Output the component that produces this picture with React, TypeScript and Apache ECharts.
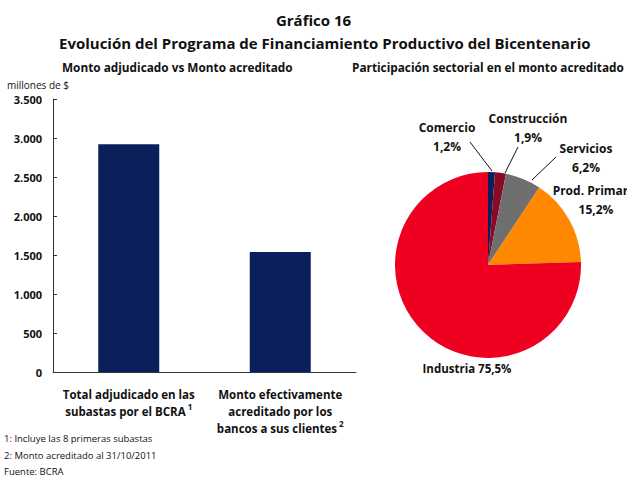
import React, { useEffect, useRef } from "react";
import * as echarts from "echarts";

const barCategories = [
  "Total adjudicado en las\nsubastas por el BCRA{sup|1}",
  "Monto efectivamente\nacreditado por los\nbancos a sus clientes{sup|2}",
];
const barValues = [2920, 1540];
const yTicks = { min: 0, max: 3500, interval: 500 };

const sectorNames = ["Comercio", "Construcción", "Servicios", "Prod. Primario", "Industria"];
const sectorValues = [1.2, 1.9, 6.2, 15.2, 75.5];
const sectorColors = ["#0b1f5c", "#8a0a26", "#6f6f6f", "#ff8800", "#ee0020"];

const footnotes = [
  "1: Incluye las 8 primeras subastas",
  "2: Monto acreditado al 31/10/2011",
  "Fuente: BCRA",
];

const FONT = "Open Sans";

const fmtThousands = (v: number) => String(v).replace(/\B(?=(\d{3})+(?!\d))/g, ".");
const fmtPct = (v: number) => String(v.toFixed(1)).replace(".", ",") + "%";

// label placement (style only)
const pieLabelPos = [
  { x: 447, y: 137, size: 12, line: [[470, 142], [492, 171]] },
  { x: 528, y: 128, size: 12, line: [[518, 147], [505, 173]] },
  { x: 586, y: 158, size: 12, line: [[556, 157], [532, 180]] },
  { x: 596, y: 200, size: 12, line: null },
  { x: 467, y: 368, size: 11.5, line: null },
];

export default function App() {
  const ref = useRef<HTMLDivElement>(null);
  useEffect(() => {
    if (!ref.current) return;
    const chart = echarts.init(ref.current, undefined, { renderer: "svg" });
    const titleStyle = { fontFamily: FONT, fontWeight: "bold" as const, color: "#111" };
    const noteStyle = { fontFamily: FONT, fontSize: 9.5, fontWeight: "normal" as const, color: "#111" };
    chart.setOption({
      animation: false,
      backgroundColor: "#ffffff",
      textStyle: { fontFamily: FONT },
      title: [
        { text: "Gráfico 16", left: "center", top: 12, padding: 0, textStyle: { ...titleStyle, fontSize: 15 } },
        {
          text: "Evolución del Programa de Financiamiento Productivo del Bicentenario",
          left: 59,
          top: 35,
          padding: 0,
          textStyle: { ...titleStyle, fontSize: 15 },
        },
        { text: "Monto adjudicado vs Monto acreditado", left: 62, top: 61, padding: 0, textStyle: { ...titleStyle, fontSize: 11.8 } },
        {
          text: "Participación sectorial en el monto acreditado",
          left: 352,
          top: 61,
          padding: 0,
          textStyle: { ...titleStyle, fontSize: 11.8 },
        },
        { text: "millones de $", left: 7, top: 80, padding: 0, textStyle: { ...noteStyle, fontSize: 10 } },
        ...footnotes.map((t, i) => ({
          text: t,
          left: 4,
          top: [433, 450, 466][i],
          padding: 0,
          textStyle: noteStyle,
        })),
      ],
      grid: { left: 53, right: 271, top: 99, bottom: 105, containLabel: false },
      xAxis: {
        type: "category",
        data: barCategories,
        boundaryGap: true,
        axisLine: { lineStyle: { color: "#333", width: 1 } },
        axisTick: { inside: true, length: 4, lineStyle: { color: "#333" } },
        axisLabel: {
          interval: 0,
          margin: 14,
          fontFamily: FONT,
          fontSize: 11.5,
          fontWeight: "bold",
          color: "#111",
          lineHeight: 17,
          rich: {
            sup: { fontSize: 8, fontWeight: "bold", color: "#111", padding: [0, 0, 11, 2] },
          },
        },
      },
      yAxis: {
        type: "value",
        min: yTicks.min,
        max: yTicks.max,
        interval: yTicks.interval,
        splitLine: { show: false },
        axisLine: { show: true, lineStyle: { color: "#333", width: 1 } },
        axisTick: { show: true, inside: true, length: 4, lineStyle: { color: "#333" } },
        axisLabel: {
          margin: 11,
          fontFamily: FONT,
          fontSize: 11,
          fontWeight: "bold",
          color: "#111",
          formatter: (v: number) => fmtThousands(v),
        },
      },
      series: [
        {
          type: "bar",
          data: barValues,
          barWidth: 61,
          itemStyle: { color: "#0b1f5b" },
        },
        {
          type: "pie",
          center: [488, 265],
          radius: [0, 93],
          startAngle: 90,
          clockwise: true,
          avoidLabelOverlap: false,
          itemStyle: { borderWidth: 0 },
          label: {
            show: true,
            position: "outside",
            fontFamily: FONT,
            fontSize: 12,
            fontWeight: "bold",
            color: "#111",
            lineHeight: 19,
            formatter: (p: any) =>
              p.dataIndex === 4 ? `${p.name} ${fmtPct(p.value)}` : `${p.name}\n${fmtPct(p.value)}`,
          },
          labelLine: { show: true, lineStyle: { color: "#111", width: 1 } },
          labelLayout: (p: any) => {
            const pos = pieLabelPos[p.dataIndex];
            const out: any = { x: pos.x, y: pos.y, align: "center", verticalAlign: "middle", fontSize: pos.size };
            if (pos.line) out.labelLinePoints = [pos.line[0], pos.line[0], pos.line[1]];
            return out;
          },
          data: sectorNames.map((n, i) => ({
            name: n,
            value: sectorValues[i],
            itemStyle: { color: sectorColors[i] },
            labelLine: { show: !!pieLabelPos[i].line },
          })),
        },
      ],
    });
    return () => chart.dispose();
  }, []);
  return (
    <div
      ref={ref}
      style={{ position: "fixed", left: 0, top: 0, width: 627, height: 477, background: "#fff" }}
    />
  );
}
